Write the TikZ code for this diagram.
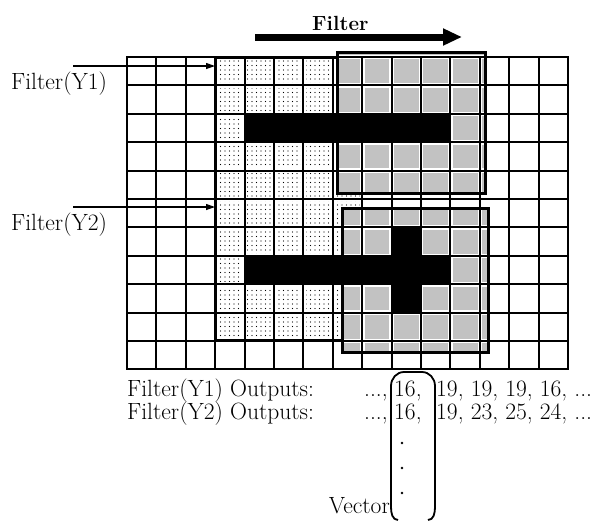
\documentclass[tikz,border=0pt]{standalone}
\usepackage{fontspec}
\usetikzlibrary{arrows.meta,patterns.meta}
\begin{document}
\begin{tikzpicture}[x=1pt,y=-1pt]
\tikzset{
  gridline/.style={line width=2pt},
  gapline/.style={white, line width=4.6pt},
  thickframe/.style={line width=3pt},
  lbl/.style={font=\fontsize{23.5}{27}\selectfont\addfontfeatures{FakeBold=1.2}, inner sep=0pt, anchor=base west},
  ptr/.style={line width=1.2pt, -{Triangle[length=9pt,width=6pt]}},
  dotfill/.style={pattern={Dots[distance=4.5pt,radius=0.6pt]}},
  grayfill/.style={fill=black!24},
  barfill/.style={fill=black},
  bigarrow/.style={line width=7pt, -{Triangle[length=19pt,width=16pt]}},
}
\useasboundingbox (0,0) rectangle (602,520);
% patterned regions
\path[dotfill] (215.2,57) rectangle (362.2,340.8);
\path[grayfill] (337,52) rectangle (485,193);
\path[grayfill] (342,208) rectangle (488,352);
% grid
\foreach \i in {0,...,15} {
  \draw[gapline] ({127+\i*29.4},57) -- ({127+\i*29.4},369.4);
}
\foreach \j in {0,...,11} {
  \draw[gapline] (127,{57+\j*28.4}) -- (568,{57+\j*28.4});
}
\foreach \i in {0,...,15} {
  \draw[gridline] ({127+\i*29.4},57) -- ({127+\i*29.4},369.4);
}
\foreach \j in {0,...,11} {
  \draw[gridline] (126,{57+\j*28.4}) -- (569,{57+\j*28.4});
}
% black bars
\path[barfill] (244.6,113.8) rectangle (450.4,142.2);
\path[barfill] (244.6,255.8) rectangle (450.4,284.2);
\path[barfill] (391.6,227.4) rectangle (421,312.6);
% frames
\draw[thickframe] (337,52) rectangle (485,193);
\draw[thickframe] (342,208) rectangle (488,352);
\draw[thickframe] (337,57) -- (215.2,57) -- (215.2,340.8) -- (342,340.8);
% top arrow
\node[font=\fontsize{20.5}{24}\selectfont\bfseries, anchor=base west, inner sep=0pt] (ftitle) at (312,30) {Filter};
\coordinate (fs) at (255,37);
\coordinate (fe) at (462,37);
\draw[bigarrow] (fs) -- (fe);
% left labels
\node[lbl] (ly1) at (11,89) {Filter(Y1)};
\node[lbl] (ly2) at (11,230) {Filter(Y2)};
\coordinate (a1s) at (73,66);
\coordinate (a1e) at (215,66);
\coordinate (a2s) at (73,207);
\coordinate (a2e) at (215,207);
\draw[ptr] (a1s) -- (a1e);
\draw[ptr] (a2s) -- (a2e);
% outputs
\node[lbl] (o1) at (127,396) {Filter(Y1) Outputs:};
\node[lbl] (o1a) at (364,396) {...,};
\node[lbl] (o1b) at (394,396) {16,};
\node[lbl] (o1c) at (436,396) {19, 19, 19, 16, ...};
\node[lbl] (o2) at (127,419) {Filter(Y2) Outputs:};
\node[lbl] (o2a) at (364,419) {...,};
\node[lbl] (o2b) at (394,419) {16,};
\node[lbl] (o2c) at (436,419) {19, 23, 25, 24, ...};
% vector bracket
\draw[line width=1.8pt] (398,520) to[out=180,in=-90] (391,507) -- (391,386)
  to[out=90,in=180] (404,372) -- (422,372) to[out=0,in=90] (435,386)
  -- (435,507) to[out=-90,in=0] (428,520);
\fill (402,443) circle (1.3pt);
\fill (402,468) circle (1.3pt);
\fill (402,493) circle (1.3pt);
\node[lbl, anchor=base east] (vec) at (390,513) {Vector};
\end{tikzpicture}
\end{document}
